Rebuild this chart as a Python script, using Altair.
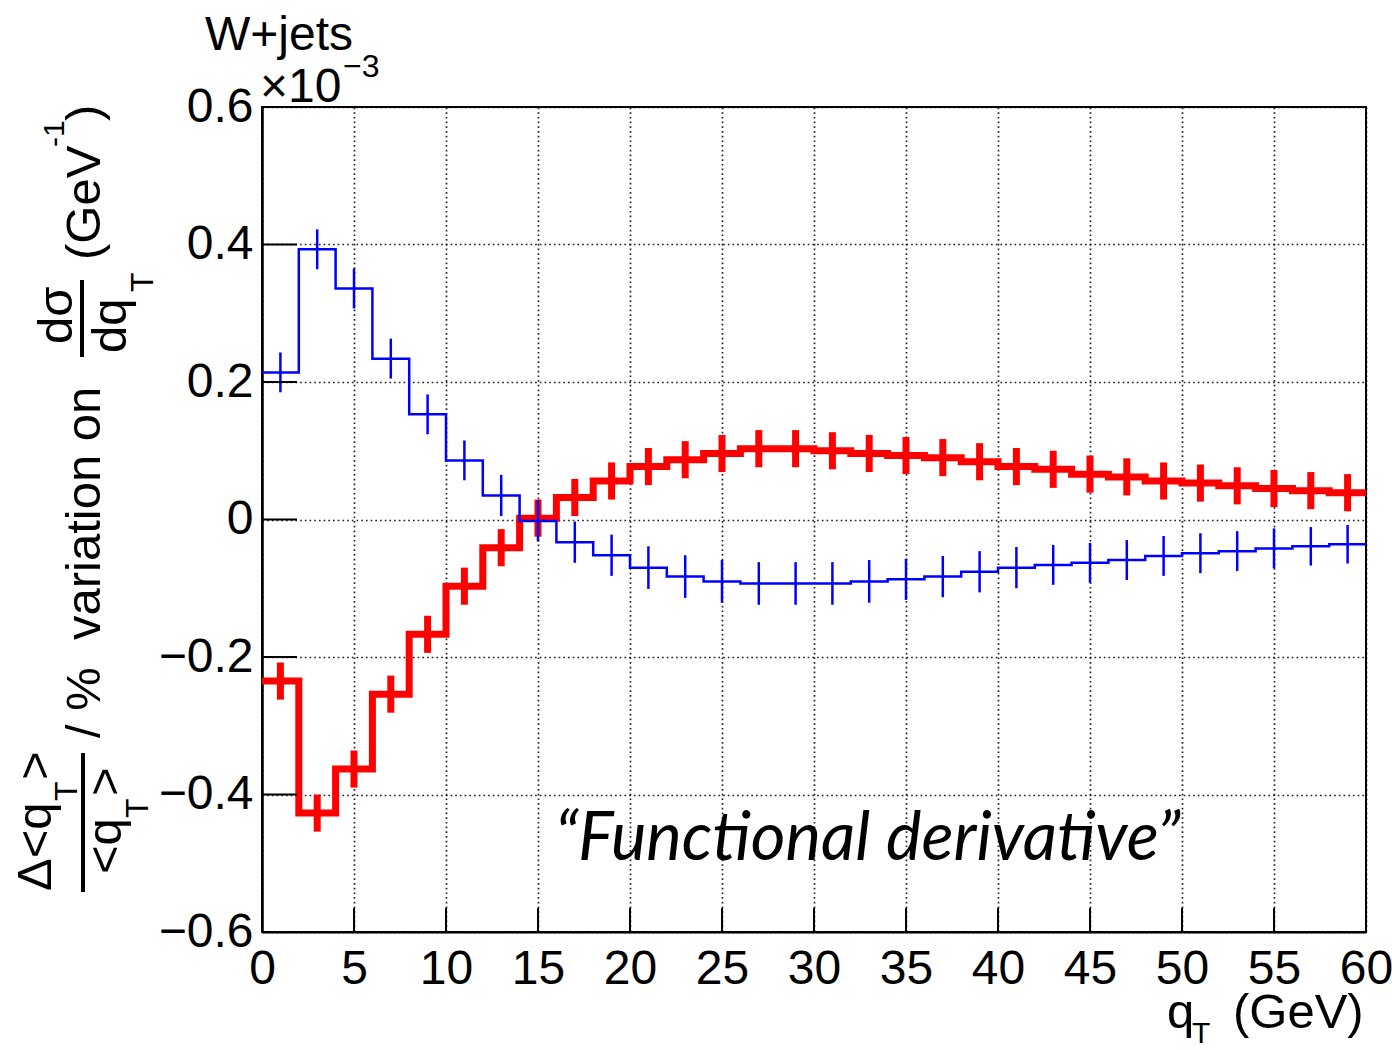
import altair as alt
import pandas as pd

# ---------------- data ----------------
bin_lo = [0, 2, 4, 6, 8, 10, 12, 14, 16, 18, 20, 22, 24, 26, 28,
          30, 32, 34, 36, 38, 40, 42, 44, 46, 48, 50, 52, 54, 56, 58]
bin_hi = [2, 4, 6, 8, 10, 12, 14, 16, 18, 20, 22, 24, 26, 28, 30,
          32, 34, 36, 38, 40, 42, 44, 46, 48, 50, 52, 54, 56, 58, 60]

red_vals = [-0.235, -0.427, -0.363, -0.254, -0.167, -0.097, -0.041, 0.002, 0.032, 0.056,
            0.077, 0.087, 0.096, 0.103, 0.103, 0.100, 0.096, 0.093, 0.090, 0.084,
            0.077, 0.073, 0.066, 0.062, 0.056, 0.053, 0.049, 0.045, 0.042, 0.039]
red_err = [0.027, 0.027, 0.027, 0.027, 0.027, 0.027, 0.027, 0.027, 0.027, 0.027,
           0.027, 0.027, 0.027, 0.027, 0.027, 0.027, 0.027, 0.027, 0.027, 0.027,
           0.027, 0.027, 0.027, 0.027, 0.027, 0.027, 0.027, 0.027, 0.027, 0.027]

blue_vals = [0.214, 0.393, 0.336, 0.234, 0.153, 0.086, 0.035, -0.002, -0.033, -0.052,
             -0.070, -0.083, -0.090, -0.093, -0.093, -0.093, -0.090, -0.087, -0.083, -0.076,
             -0.070, -0.066, -0.063, -0.059, -0.053, -0.049, -0.046, -0.042, -0.039, -0.036]
blue_err = [0.029, 0.029, 0.029, 0.029, 0.029, 0.029, 0.030, 0.030, 0.030, 0.030,
            0.031, 0.031, 0.031, 0.031, 0.031, 0.031, 0.031, 0.030, 0.030, 0.030,
            0.030, 0.029, 0.029, 0.029, 0.029, 0.029, 0.029, 0.029, 0.028, 0.028]

x_ticks = [0, 5, 10, 15, 20, 25, 30, 35, 40, 45, 50, 55, 60]
y_ticks = [-0.6, -0.4, -0.2, 0.0, 0.2, 0.4, 0.6]

# ---------------- layout ----------------
PL, PT, PR, PB = 262, 107, 26, 118
W, H = 1104, 825
FONT = "Liberation Sans"

xs = alt.Scale(domain=[0, 60], nice=False, zero=False)
ys = alt.Scale(domain=[-0.6, 0.6], nice=False, zero=False)


def step_frame(vals):
    rows = []
    for i, (lo, hi, v) in enumerate(zip(bin_lo, bin_hi, vals)):
        rows.append({"x": lo, "y": v, "o": 2 * i})
        rows.append({"x": hi, "y": v, "o": 2 * i + 1})
    return pd.DataFrame(rows)


def err_frame(vals, errs):
    return pd.DataFrame({
        "x": [(lo + hi) / 2 for lo, hi in zip(bin_lo, bin_hi)],
        "y": [v - e for v, e in zip(vals, errs)],
        "y2": [v + e for v, e in zip(vals, errs)],
    })


GRID = dict(grid=True, gridColor="#000000", gridWidth=1.7, gridDash=[1.7, 3.0],
            gridOpacity=0.85)
x_axis = alt.Axis(values=x_ticks, ticks=False, tickSize=0,
                  labelFontSize=48, labelFont=FONT, labelColor="black",
                  labelPadding=51, labelBaseline="alphabetic",
                  labelFlush=False, labelOverlap=False, title=None,
                  domainColor="black", domainWidth=2, **GRID)
y_axis = alt.Axis(values=y_ticks, ticks=False, tickSize=0,
                  labelFontSize=48, labelFont=FONT, labelColor="black",
                  labelPadding=9, labelFlush=False, labelOverlap=False,
                  labelExpr="datum.value == 0 ? '0' : format(datum.value, '.1f')",
                  title=None, domainColor="black", domainWidth=2.5, **GRID)

X = lambda f: alt.X(f, scale=xs, axis=x_axis)
Y = lambda f: alt.Y(f, scale=ys, axis=y_axis)


def step_layer(vals, color, width):
    return alt.Chart(step_frame(vals)).mark_line(
        color=color, strokeWidth=width, strokeJoin="miter"
    ).encode(x=X("x:Q"), y=Y("y:Q"), order="o:Q")


def err_layer(vals, errs, color, width):
    return alt.Chart(err_frame(vals, errs)).mark_rule(
        color=color, strokeWidth=width
    ).encode(x=X("x:Q"), y=Y("y:Q"), y2="y2:Q")


red_line = step_layer(red_vals, "#ff0000", 7)
red_err_l = err_layer(red_vals, red_err, "#ff0000", 7)
blue_line = step_layer(blue_vals, "#0000ff", 2.5)
blue_err_l = err_layer(blue_vals, blue_err, "#0000ff", 2.5)

# inward ROOT-style ticks
yt = alt.Chart(pd.DataFrame({"y": y_ticks})).mark_rule(color="black", strokeWidth=2).encode(
    y=Y("y:Q"), x=alt.value(0), x2=alt.value(35))
xt = alt.Chart(pd.DataFrame({"x": x_ticks})).mark_rule(color="black", strokeWidth=2).encode(
    x=X("x:Q"), y=alt.value(H), y2=alt.value(H - 24))

dummy = pd.DataFrame({"a": [0]})


def label(text, px, py, size, angle=0, align="left", baseline="alphabetic",
          font=FONT, italic=False):
    kw = dict(text=text, fontSize=size, font=font, align=align,
              baseline=baseline, color="black")
    if angle:
        kw["angle"] = angle
    if italic:
        kw["fontStyle"] = "italic"
    return alt.Chart(dummy).mark_text(**kw).encode(
        x=alt.value(px - PL), y=alt.value(py - PT))


def bar(px, py1, py2, w=4):
    return alt.Chart(dummy).mark_rule(color="black", strokeWidth=w).encode(
        x=alt.value(px - PL), y=alt.value(py1 - PT), y2=alt.value(py2 - PT))


NB = "\u00a0"
texts = [
    # title + exponent
    label("W+jets", 205, 50, 48),
    label("\u00d710", 260, 102, 48),
    label("\u22123", 343, 77, 32),
    # y-axis title (rotated)
    label("\u0394<q", 51, 891, 49, angle=270),
    label("T", 77, 801, 32, angle=270),
    label(">", 51, 780, 49, angle=270),
    bar(83, 753, 892),
    label("<q", 121, 874, 49, angle=270),
    label("T", 148, 818, 32, angle=270),
    label(">", 121, 796, 49, angle=270),
    label("/" + NB + "%" + NB + NB + "variation" + NB + "on", 100, 738, 49, angle=270),
    label("d\u03c3", 72, 344, 49, angle=270),
    bar(82, 280, 357),
    label("dq", 126, 353, 49, angle=270),
    label("T", 153, 292, 32, angle=270),
    label("(GeV", 100, 260, 49, angle=270),
    label("-1", 64, 147, 30, angle=270),
    label(")", 100, 121, 49, angle=270),
    # x-axis title
    label("q", 1167, 1028, 49),
    label("T", 1192, 1043, 30),
    label("(GeV)", 1233, 1028, 49),
    # annotation
    label("\u201cFunctional" + NB + "derivative\u201d", 555, 860, 67, font="Lato", italic=True),
]

chart = alt.layer(
    red_line, red_err_l, blue_line, blue_err_l, yt, xt, *texts
).properties(
    width=W, height=H,
    autosize=alt.AutoSizeParams(type="none"),
    padding={"left": PL, "top": PT, "right": PR, "bottom": PB},
    background="white",
).configure_view(stroke="black", strokeWidth=2)

chart.save("out.html", embed_options={"renderer": "svg", "actions": False})
